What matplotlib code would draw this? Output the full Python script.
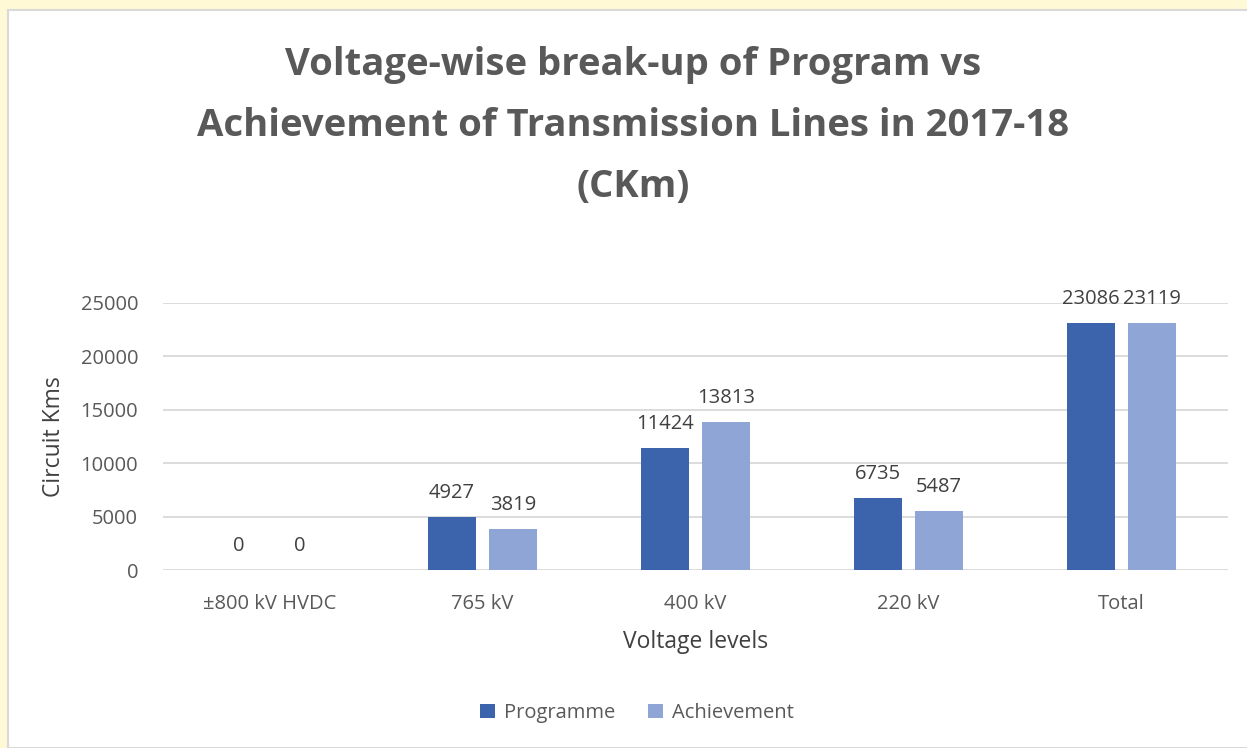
import matplotlib.pyplot as plt
import matplotlib.patches as patches
import numpy as np

categories = ['±800 kV HVDC', '765 kV', '400 kV', '220 kV', 'Total']
programme = [0, 4927, 11424, 6735, 23086]
achievement = [0, 3819, 13813, 5487, 23119]

plt.rcParams['font.family'] = ['Open Sans', 'DejaVu Sans']

W, H = 1247, 748
fig = plt.figure(figsize=(W / 100, H / 100), dpi=100, facecolor='#fff9d6')

# white chart panel with grey border
fig.patches.append(patches.Rectangle((8 / W, 0), 1.0, 1 - 10 / H, transform=fig.transFigure,
                                     facecolor='white', edgecolor='#d9d9d9', linewidth=1.5,
                                     zorder=-10))

ax = fig.add_axes([163 / W, (H - 570) / H, (1228 - 163) / W, (570 - 303) / H])
ax.set_facecolor('none')

x = np.arange(len(categories))
w = 0.225
off = 0.143
b1 = ax.bar(x - off, programme, w, color='#3c64ad', label='Programme', zorder=3)
b2 = ax.bar(x + off, achievement, w, color='#8fa5d5', label='Achievement', zorder=3)

for bars, vals in ((b1, programme), (b2, achievement)):
    for r, v in zip(bars, vals):
        ax.text(r.get_x() + r.get_width() / 2, v + 1350, str(v), ha='center', va='bottom',
                fontsize=14.5, color='#404040')

ax.set_xlim(-0.5, len(categories) - 0.5)
ax.set_ylim(0, 25000)
ax.set_yticks(np.arange(0, 25001, 5000))
ax.set_xticks(x)
ax.set_xticklabels(categories)
ax.tick_params(axis='both', length=0, labelsize=14.5, colors='#595959')
ax.tick_params(axis='x', pad=17)
ax.tick_params(axis='y', pad=18)
ax.grid(axis='y', color='#d9d9d9', linewidth=1.3, zorder=0)
for s in ax.spines.values():
    s.set_visible(False)

ax.set_xlabel('Voltage levels', fontsize=16.5, color='#404040', labelpad=12)
ax.set_ylabel('Circuit Kms', fontsize=16.5, color='#404040', labelpad=10)

fig.text(633 / W, 1 - 126 / H,
         'Voltage-wise break-up of Program vs\nAchievement of Transmission Lines in 2017-18\n(CKm)',
         ha='center', va='center', fontsize=27.5, fontweight='bold', color='#595959',
         linespacing=1.78)

fig.legend(handles=[b1, b2], loc='center', bbox_to_anchor=(637 / W, 1 - 713 / H), ncol=2,
           frameon=False, fontsize=14.5, labelcolor='#595959', handlelength=0.75,
           handleheight=0.75, handletextpad=0.45, columnspacing=1.6)

fig.savefig('out.png', dpi=100, facecolor=fig.get_facecolor())
